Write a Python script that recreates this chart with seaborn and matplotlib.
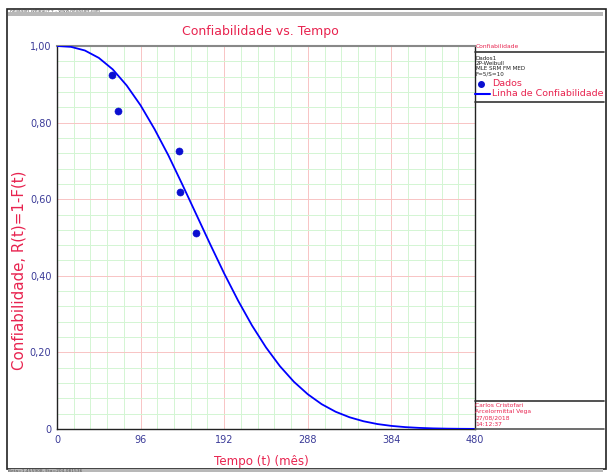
import numpy as np
import pandas as pd
import seaborn as sns
import matplotlib.pyplot as plt
from matplotlib.ticker import MultipleLocator, FuncFormatter
from matplotlib.lines import Line2D
from matplotlib.patches import Rectangle

# data points (tempo, confiabilidade)
tempo_dados = [63, 70.4, 140.4, 141.2, 159.9]
conf_dados = [0.925, 0.831, 0.725, 0.619, 0.512]

# reliability line read at every 16 months
tempo_linha = [0, 16, 32, 48, 64, 80, 96, 112, 128, 144, 160, 176, 192, 208, 224,
               240, 256, 272, 288, 304, 320, 336, 352, 368, 384, 400, 416, 432,
               448, 464, 480]
conf_linha = [1.0, 0.9978, 0.9883, 0.969, 0.939, 0.897, 0.845, 0.783, 0.714,
              0.638, 0.560, 0.482, 0.406, 0.335, 0.270, 0.213, 0.164, 0.1234,
              0.0907, 0.0647, 0.0450, 0.0306, 0.0202, 0.0129, 0.0081, 0.0049,
              0.0029, 0.0016, 0.0009, 0.0005, 0.0003]

x_ticks = [0, 96, 192, 288, 384, 480]
y_ticks = [0, 0.2, 0.4, 0.6, 0.8, 1.0]

info_lines = ["Dados1", "2P-Weibull", "MLE SRM FM MED", "F=5/S=10"]
autor_lines = ["Carlos Cristofari", "Arcelormittal Vega", "27/08/2018", "14:12:37"]

RED = "#e8234f"
TICK = "#3b3b98"
BLUE = "#0000ff"

sns.set_style("white")
plt.rcParams['font.family'] = ['DejaVu Sans']

fig = plt.figure(figsize=(6.07, 4.74), dpi=100)
W, H = 607, 474
ax = fig.add_axes([57 / W, 1 - 429 / H, (475 - 57) / W, (429 - 46) / H])

ax.set_xlim(0, 480)
ax.set_ylim(0, 1)
ax.xaxis.set_minor_locator(MultipleLocator(19.2))
ax.yaxis.set_minor_locator(MultipleLocator(0.04))
ax.grid(which="minor", color="#d3f5d3", lw=0.7)
ax.grid(which="major", color="#f8c4c4", lw=0.7)
ax.set_axisbelow(True)

df_linha = pd.DataFrame({"t": tempo_linha, "R": conf_linha})
df_dados = pd.DataFrame({"t": tempo_dados, "R": conf_dados})
sns.lineplot(data=df_linha, x="t", y="R", ax=ax, color=BLUE, lw=1.3, zorder=3)
sns.scatterplot(data=df_dados, x="t", y="R", ax=ax, color="#0a0fd0", s=26,
                edgecolor="#0a0fd0", zorder=4)

ax.set_xticks(x_ticks)
ax.set_yticks(y_ticks)
ax.yaxis.set_major_formatter(FuncFormatter(lambda v, p: "0" if v == 0 else f"{v:.2f}".replace(".", ",")))
ax.tick_params(which="major", length=3, width=0.8, color="#555555", labelsize=7, labelcolor=TICK, pad=1)
ax.tick_params(which="minor", length=0)

for s in ["left", "bottom", "right"]:
    ax.spines[s].set_color("#222222")
    ax.spines[s].set_linewidth(1.0)
ax.spines["top"].set_color("#888888")
ax.spines["top"].set_linewidth(1.5)

ax.set_xlabel("Tempo (t) (mês)", color=RED, fontsize=8.6)
ax.xaxis.set_label_coords(0.489, -0.068)
ax.set_ylabel("Confiabilidade, R(t)=1-F(t)", color=RED, fontsize=10.8)
ax.yaxis.set_label_coords(-0.072, 0.415)
fig.text(260 / W, 1 - 31 / H, "Confiabilidade vs. Tempo", color=RED, fontsize=9,
         ha="center", va="center")

# outer frame and header/footer bars
fig.add_artist(Rectangle((7 / W, 1 - 469 / H), (606 - 7) / W, (469 - 9) / H,
                         transform=fig.transFigure, fill=False, ec="#222222", lw=1.2))
fig.add_artist(Rectangle((8 / W, 1 - 16 / H), (603 - 8) / W, 4 / H,
                         transform=fig.transFigure, color="#b8b8b8", lw=0))
fig.text(10 / W, 1 - 11 / H, "ReliaSoft Weibull++ - www.ReliaSoft.com", fontsize=3.2,
         color="#555555", va="center")
fig.add_artist(Rectangle((8 / W, 1 - 472 / H), (603 - 8) / W, 3 / H,
                         transform=fig.transFigure, color="#b8b8b8", lw=0))
fig.text(8 / W, 1 - 470.5 / H, "Beta=1,455908, Eta=204,081536", fontsize=3.2,
         color="#555555", va="center")

# right panel
def hline(y, color="#333333", lw=1.2):
    fig.add_artist(Line2D([475 / W, 604 / W], [1 - y / H, 1 - y / H],
                          transform=fig.transFigure, color=color, lw=lw))

fig.text(476 / W, 1 - 47 / H, "Confiabilidade", color=RED, fontsize=4.3, va="center")
hline(52)
for i, s in enumerate(info_lines):
    fig.text(476 / W, 1 - (58 + i * 5.2) / H, s, color="#222222", fontsize=4.1, va="center")
fig.add_artist(Line2D([481 / W], [1 - 84 / H], marker="o", ms=4, color="#0a0fd0",
                      transform=fig.transFigure))
fig.text(492 / W, 1 - 84 / H, "Dados", color=RED, fontsize=6.8, va="center")
fig.add_artist(Line2D([475 / W, 490 / W], [1 - 94 / H, 1 - 94 / H], color=BLUE, lw=1.5,
                      transform=fig.transFigure))
fig.text(492 / W, 1 - 94 / H, "Linha de Confiabilidade", color=RED, fontsize=6.8, va="center")
hline(102)

hline(401)
for i, s in enumerate(autor_lines):
    fig.text(475 / W, 1 - (405.5 + i * 6.4) / H, s, color=RED, fontsize=4.3, va="center")
hline(429, color="#555555")

fig.savefig("out.png", dpi=100)
